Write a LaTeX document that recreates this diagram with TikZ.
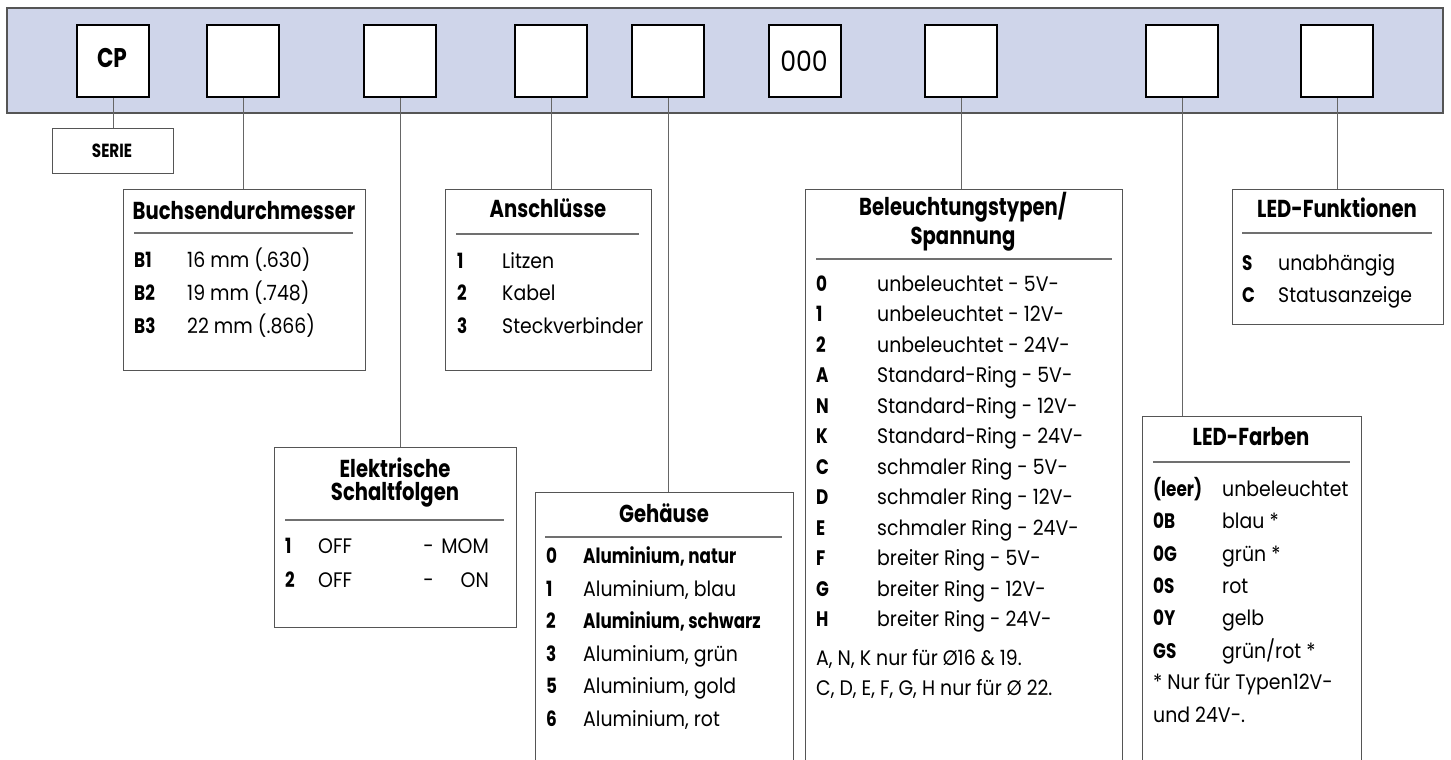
\documentclass[tikz,border=0pt]{standalone}
\usepackage{fontspec}
\setmainfont{Poppins}[FakeStretch=0.9, BoldFeatures={FakeStretch=0.8}]
\usepackage{tikz}

\definecolor{barblue}{HTML}{CFD5EA}
\definecolor{boxgray}{HTML}{555555}
\definecolor{linkgray}{HTML}{666666}
\definecolor{rulegray}{HTML}{707070}
\newcommand\itemfnt{\fontsize{21}{24}\selectfont}
\newcommand\ttlfnt{\fontsize{24.5}{26}\selectfont\bfseries}

\begin{document}
\begin{tikzpicture}[x=1pt,y=-1pt,
  every node/.style={inner sep=0pt},
  codebox/.style={draw=black, line width=2.4pt, fill=white, minimum width=72pt, minimum height=72pt, anchor=north west},
  infobox/.style={draw=boxgray, line width=1.3pt, fill=white, anchor=north west},
  link/.style={draw=linkgray, line width=1.1pt},
  rule/.style={draw=rulegray, line width=1.1pt},
  title/.style={font=\ttlfnt, anchor=base},
  key/.style={font=\itemfnt\bfseries, anchor=base west},
  entry/.style={font=\itemfnt, anchor=base west}]
\clip (0,0) rectangle (1451,760);
\draw[fill=barblue, draw=boxgray, line width=1.2pt] (7,8) rectangle (1443,113);

% code boxes
\node[codebox] (c1) at (76,24) {};
\node[codebox] (c2) at (206,24) {};
\node[codebox] (c3) at (363,24) {};
\node[codebox] (c4) at (514,24) {};
\node[codebox] (c5) at (631,24) {};
\node[codebox] (c6) at (768,24) {};
\node[codebox] (c7) at (924,24) {};
\node[codebox] (c8) at (1145,24) {};
\node[codebox] (c9) at (1300,24) {};
\node[font=\fontsize{27}{27}\selectfont\bfseries, anchor=base] (cp) at (112,67) {CP};
\node[font=\fontsize{28}{28}\selectfont, anchor=base] (nul) at (804,71) {000};

% info boxes
\node[infobox, minimum width=121pt, minimum height=45pt] (serie) at (52,128) {};
\node[infobox, minimum width=242pt, minimum height=181pt] (buchsen) at (123,189) {};
\node[infobox, minimum width=242pt, minimum height=180pt] (schalt) at (274,447) {};
\node[infobox, minimum width=206pt, minimum height=181pt] (anschl) at (445,189) {};
\node[infobox, minimum width=258pt, minimum height=300pt] (gehaeuse) at (535,492) {};
\node[infobox, minimum width=317pt, minimum height=600pt] (beleucht) at (805,189) {};
\node[infobox, minimum width=219pt, minimum height=400pt] (farben) at (1142,416) {};
\node[infobox, minimum width=211pt, minimum height=135pt] (funkt) at (1232,189) {};

% connectors
\draw[link] (c1.south) -- (c1.south |- serie.north);
\draw[link] (c2.south) -- (c2.south |- buchsen.north);
\draw[link] (c3.south) -- (c3.south |- schalt.north);
\draw[link] (c4.south) -- (c4.south |- anschl.north);
\draw[link] (c5.south) -- (c5.south |- gehaeuse.north);
\draw[link] (c7.south) -- (c7.south |- beleucht.north);
\draw[link] (c8.south) -- (c8.south |- farben.north);
\draw[link] (c9.south) -- (c9.south |- funkt.north);

\node[font=\fontsize{19}{19}\selectfont\bfseries, anchor=base] (seriet) at (112,157) {SERIE};

% Buchsendurchmesser
\node[title] (buchsent) at (244,219) {Buchsendurchmesser};
\draw[rule] (134,233) -- (353,233);
\node[key] (bk1) at (134,267) {B1}; \node[entry] (bt1) at (187,267) {16 mm (.630)};
\node[key] (bk2) at (134,300) {B2}; \node[entry] (bt2) at (187,300) {19 mm (.748)};
\node[key] (bk3) at (134,333) {B3}; \node[entry] (bt3) at (187,333) {22 mm (.866)};

% Anschluesse
\node[title] (anschlt) at (548,217) {Anschlüsse};
\draw[rule] (456,234) -- (639,234);
\node[key] (ak1) at (457,268) {1}; \node[entry] (at1) at (502,268) {Litzen};
\node[key] (ak2) at (457,300.5) {2}; \node[entry] (at2) at (502,300.5) {Kabel};
\node[key] (ak3) at (457,333) {3}; \node[entry] (at3) at (502,333) {Steckverbinder};

% Elektrische Schaltfolgen
\node[title] (schaltt1) at (395,477) {Elektrische};
\node[title] (schaltt2) at (395,500) {Schaltfolgen};
\draw[rule] (285,520) -- (504,520);
\node[key] (sk1) at (285,553) {1}; \node[entry] (so1) at (318,553) {OFF};
\node[entry, anchor=base] (sd1) at (428.5,553) {-}; \node[entry, anchor=base east] (sm1) at (489,553) {MOM};
\node[key] (sk2) at (285,587) {2}; \node[entry] (so2) at (318,587) {OFF};
\node[entry, anchor=base] (sd2) at (428.5,587) {-}; \node[entry, anchor=base east] (sm2) at (489,587) {ON};

% Gehaeuse
\node[title] (gehaeuset) at (664,522) {Gehäuse};
\draw[rule] (545,537) -- (782,537);
\node[key] (gk0) at (546,563) {0}; \node[key] (gt0) at (583,563) {Aluminium, natur};
\node[key] (gk1) at (546,596) {1}; \node[entry] (gt1) at (583,596) {Aluminium, blau};
\node[key] (gk2) at (546,628) {2}; \node[key] (gt2) at (583,628) {Aluminium, schwarz};
\node[key] (gk3) at (546,661) {3}; \node[entry] (gt3) at (583,661) {Aluminium, grün};
\node[key] (gk5) at (546,693) {5}; \node[entry] (gt5) at (583,693) {Aluminium, gold};
\node[key] (gk6) at (546,726) {6}; \node[entry] (gt6) at (583,726) {Aluminium, rot};

% Beleuchtungstypen / Spannung
\node[title] (beleuchtt1) at (963,215) {Beleuchtungstypen/};
\node[title] (beleuchtt2) at (963,244) {Spannung};
\draw[rule] (816,259) -- (1112,259);
\node[key] (lk1) at (816,291) {0}; \node[entry] (lt1) at (877,291) {unbeleuchtet - 5V-};
\node[key] (lk2) at (816,321.5) {1}; \node[entry] (lt2) at (877,321.5) {unbeleuchtet - 12V-};
\node[key] (lk3) at (816,352) {2}; \node[entry] (lt3) at (877,352) {unbeleuchtet - 24V-};
\node[key] (lk4) at (816,382.5) {A}; \node[entry] (lt4) at (877,382.5) {Standard-Ring - 5V-};
\node[key] (lk5) at (816,413) {N}; \node[entry] (lt5) at (877,413) {Standard-Ring - 12V-};
\node[key] (lk6) at (816,443) {K}; \node[entry] (lt6) at (877,443) {Standard-Ring - 24V-};
\node[key] (lk7) at (816,474) {C}; \node[entry] (lt7) at (877,474) {schmaler Ring - 5V-};
\node[key] (lk8) at (816,504) {D}; \node[entry] (lt8) at (877,504) {schmaler Ring - 12V-};
\node[key] (lk9) at (816,535) {E}; \node[entry] (lt9) at (877,535) {schmaler Ring - 24V-};
\node[key] (lk10) at (816,565) {F}; \node[entry] (lt10) at (877,565) {breiter Ring - 5V-};
\node[key] (lk11) at (816,596) {G}; \node[entry] (lt11) at (877,596) {breiter Ring - 12V-};
\node[key] (lk12) at (816,626) {H}; \node[entry] (lt12) at (877,626) {breiter Ring - 24V-};
\node[entry] (ln1) at (816,665) {A, N, K nur für Ø16 \& 19.};
\node[entry] (ln2) at (816,695) {C, D, E, F, G, H nur für Ø 22.};

% LED-Farben
\node[title] (farbent) at (1251,445) {LED-Farben};
\draw[rule] (1153,462) -- (1350,462);
\node[key] (fk1) at (1153,496) {(leer)}; \node[entry] (ft1) at (1222,496) {unbeleuchtet};
\node[key] (fk2) at (1153,528) {0B}; \node[entry] (ft2) at (1222,528) {blau *};
\node[key] (fk3) at (1153,561) {0G}; \node[entry] (ft3) at (1222,561) {grün *};
\node[key] (fk4) at (1153,593) {0S}; \node[entry] (ft4) at (1222,593) {rot};
\node[key] (fk5) at (1153,625) {0Y}; \node[entry] (ft5) at (1222,625) {gelb};
\node[key] (fk6) at (1153,658) {GS}; \node[entry] (ft6) at (1222,658) {grün/rot *};
\node[entry] (fn1) at (1153,689) {* Nur für Typen12V-};
\node[entry] (fn2) at (1153,722) {und 24V-.};

% LED-Funktionen
\node[title] (funktt) at (1337,217) {LED-Funktionen};
\draw[rule] (1242,233) -- (1432,233);
\node[key] (uk1) at (1242,270) {S}; \node[entry] (ut1) at (1278,270) {unabhängig};
\node[key] (uk2) at (1242,302) {C}; \node[entry] (ut2) at (1278,302) {Statusanzeige};
\end{tikzpicture}
\end{document}
